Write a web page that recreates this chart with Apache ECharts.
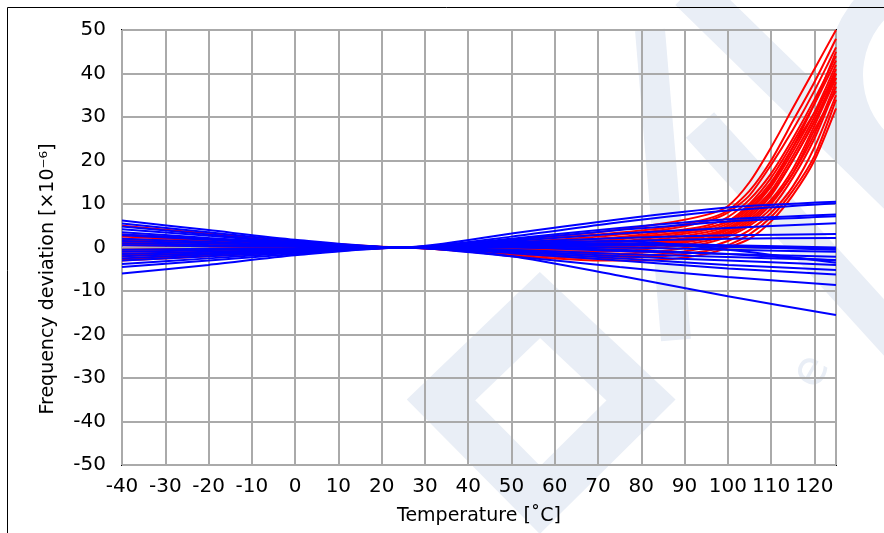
<!DOCTYPE html>
<html>
<head>
<meta charset="utf-8">
<script src="https://cdn.jsdelivr.net/npm/echarts@6/dist/echarts.min.js"></script>
<style>
  html, body { margin: 0; padding: 0; background: #fff; }
  #chart { width: 884px; height: 533px; }
</style>
</head>
<body>
<div id="chart"></div>
<script>
  var blueTemps = [-40, -20, 0, 25, 50, 75, 100, 125];
  var redTemps = [-40, -20, 0, 25, 50, 70, 85, 95, 100, 105, 110, 115, 120, 125];

  // frequency deviation [x10^-6], blue group
  var blueLines = [
    [5.5, 3.5, 1.5, 0, 3.2, 6.5, 9.2, 10.5],
    [6.2, 4.0, 1.8, 0, 2.5, 5.8, 8.5, 10.2],
    [4.8, 3.0, 1.2, 0, 2.0, 4.5, 6.5, 7.6],
    [3.5, 2.2, 1.0, 0, 1.8, 4.0, 6.0, 7.2],
    [2.8, 1.8, 0.8, 0, 1.5, 3.2, 4.5, 5.6],
    [1.5, 1.0, 0.5, 0, 1.2, 2.2, 2.8, 3.1],
    [0.5, 0.3, 0.2, 0, 0.5, 0.5, 0.2, -0.2],
    [-0.5, -0.3, -0.2, 0, 0.3, 0.0, -0.5, -1.0],
    [1.0, 0.6, 0.3, 0, 0.0, -0.8, -1.5, -2.1],
    [-1.5, -1.0, -0.5, 0, -0.5, -1.5, -2.2, -2.9],
    [-2.0, -1.3, -0.6, 0, -0.8, -2.0, -3.0, -4.0],
    [-3.0, -2.0, -1.0, 0, -1.0, -2.5, -4.0, -5.2],
    [-3.8, -2.5, -1.2, 0, -1.3, -3.0, -4.8, -6.2],
    [-4.5, -3.0, -1.5, 0, -2.0, -4.5, -6.8, -8.6],
    [-6.0, -4.0, -1.8, 0, -2.0, -6.5, -11.2, -15.5],
    [2.0, 1.3, 0.6, 0, 0.8, 1.5, 2.0, 2.2],
    [-1.0, -0.6, -0.3, 0, 0.6, 1.0, 0.5, 0.0],
    [3.0, 2.0, 0.9, 0, 0.8, 0.8, 0.2, -0.5],
    [-2.5, -1.6, -0.8, 0, 0.2, -0.5, -1.5, -3.0],
    [4.2, 2.7, 1.2, 0, 1.0, 1.5, -0.5, -3.5]
  ];

  // red group
  var redLines = [
    [2.5, 1.6, 0.8, 0, 1.8, 3.5, 5.5, 7.5, 9.5, 15, 23, 32, 41, 50],
    [1.0, 0.7, 0.3, 0, 1.5, 3.0, 4.5, 6.5, 8.5, 13, 20, 29, 38, 48],
    [-1.5, -1.0, -0.5, 0, 1.2, 2.5, 4.0, 6.0, 8.0, 12, 19, 27, 36, 46],
    [5.0, 3.2, 1.5, 0, 1.0, 2.0, 3.5, 5.0, 7.0, 11, 17, 25, 34, 44],
    [-2.5, -1.6, -0.8, 0, 0.8, 1.5, 3.0, 4.5, 6.0, 10, 16, 24, 33, 43],
    [1.5, 1.0, 0.5, 0, 0.5, 1.0, 2.0, 3.5, 5.0, 8.5, 14, 22, 31, 42],
    [-2.0, -1.3, -0.6, 0, 0.2, 0.5, 1.5, 3.0, 4.5, 8.0, 13, 21, 30, 41],
    [1.2, 0.8, 0.4, 0, -0.2, 0.0, 1.0, 2.5, 4.0, 7.0, 12, 20, 29, 40],
    [-3.0, -2.0, -1.0, 0, -0.5, -0.5, 0.5, 2.0, 3.5, 6.5, 11, 18, 28, 39],
    [0.8, 0.5, 0.2, 0, -0.8, -1.0, 0.0, 1.5, 3.0, 5.5, 10, 17, 26, 38],
    [-1.8, -1.2, -0.6, 0, -1.0, -1.5, -0.8, 1.0, 2.5, 5.0, 9, 16, 25, 37],
    [2.0, 1.3, 0.6, 0, 1.0, 2.0, 3.0, 4.5, 6.0, 9.5, 15, 23, 31, 40],
    [-1.0, -0.6, -0.3, 0, -1.2, -2.0, -1.5, 0.0, 1.5, 4.0, 8, 14, 23, 35],
    [0.5, 0.3, 0.1, 0, -1.5, -2.5, -2.0, -0.8, 0.5, 3.0, 7, 13, 21, 34],
    [-2.8, -1.8, -0.9, 0, -1.8, -3.0, -2.8, -1.5, 0.0, 2.0, 6, 12, 20, 32],
    [1.8, 1.2, 0.6, 0, 0.3, 1.0, 2.5, 4.0, 5.5, 9.0, 14.5, 23, 33, 45],
    [-0.5, -0.3, -0.1, 0, -0.3, 0.2, 1.2, 2.8, 4.2, 7.5, 12.5, 20, 29, 39],
    [3.0, 2.0, 1.0, 0, 0.0, 0.0, 0.8, 2.0, 3.2, 6.0, 10.5, 17, 27, 36]
  ];

  var labelFont = '"DejaVu Sans", Verdana, sans-serif';
  var markColor = '#e9eef6'; // faint logo behind the plot

  function makeSeries(temps, lines, color) {
    return lines.map(function (vals, i) {
      return {
        type: 'line',
        name: color + i,
        data: vals.map(function (v, k) { return [temps[k], v]; }),
        smooth: 0.25,
        showSymbol: false,
        silent: true,
        lineStyle: { color: color, width: 2 },
        z: color === '#0000ff' ? 3 : 2
      };
    });
  }

  var chart = echarts.init(document.getElementById('chart'));
  chart.setOption({
    animation: false,
    backgroundColor: '#fff',
    grid: {
      left: 122, right: 48, top: 30, bottom: 68,
      show: true, borderColor: '#000', borderWidth: 2, backgroundColor: 'transparent'
    },
    graphic: [
      // watermark pieces
      {
        type: 'polygon', z: -10, silent: true,
        shape: { points: [[540, 305], [441, 400], [540, 500], [641, 400]] },
        style: { fill: 'none', stroke: markColor, lineWidth: 48, lineJoin: 'miter' }
      },
      {
        type: 'line', z: -10, silent: true,
        shape: { x1: 690, y1: -10, x2: 900, y2: 195 },
        style: { stroke: markColor, lineWidth: 42 }
      },
      {
        type: 'line', z: -10, silent: true,
        shape: { x1: 700, y1: 125, x2: 900, y2: 345 },
        style: { stroke: markColor, lineWidth: 38 }
      },
      {
        type: 'line', z: -10, silent: true,
        shape: { x1: 650, y1: 30, x2: 676, y2: 340 },
        style: { stroke: markColor, lineWidth: 30 }
      },
      {
        type: 'arc', z: -10, silent: true,
        shape: { cx: 945, cy: 75, r: 100, startAngle: Math.PI * 0.55, endAngle: Math.PI * 1.35 },
        style: { fill: 'none', stroke: markColor, lineWidth: 36 }
      },
      {
        type: 'text', z: -10, silent: true, x: 812, y: 372, rotation: Math.PI / 3,
        style: {
          text: 'e', font: '48px ' + labelFont, fill: markColor,
          align: 'center', verticalAlign: 'middle'
        }
      },
      {
        type: 'rect', z: 100,
        shape: { x: 7.5, y: 7.5, width: 900, height: 600 },
        style: { fill: 'none', stroke: '#000', lineWidth: 1 }
      },
      {
        type: 'text', x: 48, y: 279, rotation: Math.PI / 2,
        style: {
          text: 'Frequency deviation [×10⁻⁶]',
          font: '19px ' + labelFont, fill: '#000',
          align: 'center', verticalAlign: 'middle'
        }
      }
    ],
    xAxis: {
      type: 'value', min: -40, max: 125, interval: 10,
      name: 'Temperature [˚C]', nameLocation: 'middle', nameGap: 42,
      nameTextStyle: { fontSize: 19, color: '#000', fontFamily: labelFont },
      axisLine: { show: false }, axisTick: { show: false },
      axisLabel: {
        fontSize: 20, color: '#000', fontFamily: labelFont, margin: 12,
        showMaxLabel: false, hideOverlap: false
      },
      splitLine: { lineStyle: { color: '#aaaaaa', width: 2 } }
    },
    yAxis: {
      type: 'value', min: -50, max: 50, interval: 10,
      axisLine: { show: false }, axisTick: { show: false },
      axisLabel: { fontSize: 20, color: '#000', fontFamily: labelFont, margin: 16 },
      splitLine: { lineStyle: { color: '#aaaaaa', width: 2 } }
    },
    series: makeSeries(redTemps, redLines, '#ff0000')
      .concat(makeSeries(blueTemps, blueLines, '#0000ff'))
  });
</script>
</body>
</html>
